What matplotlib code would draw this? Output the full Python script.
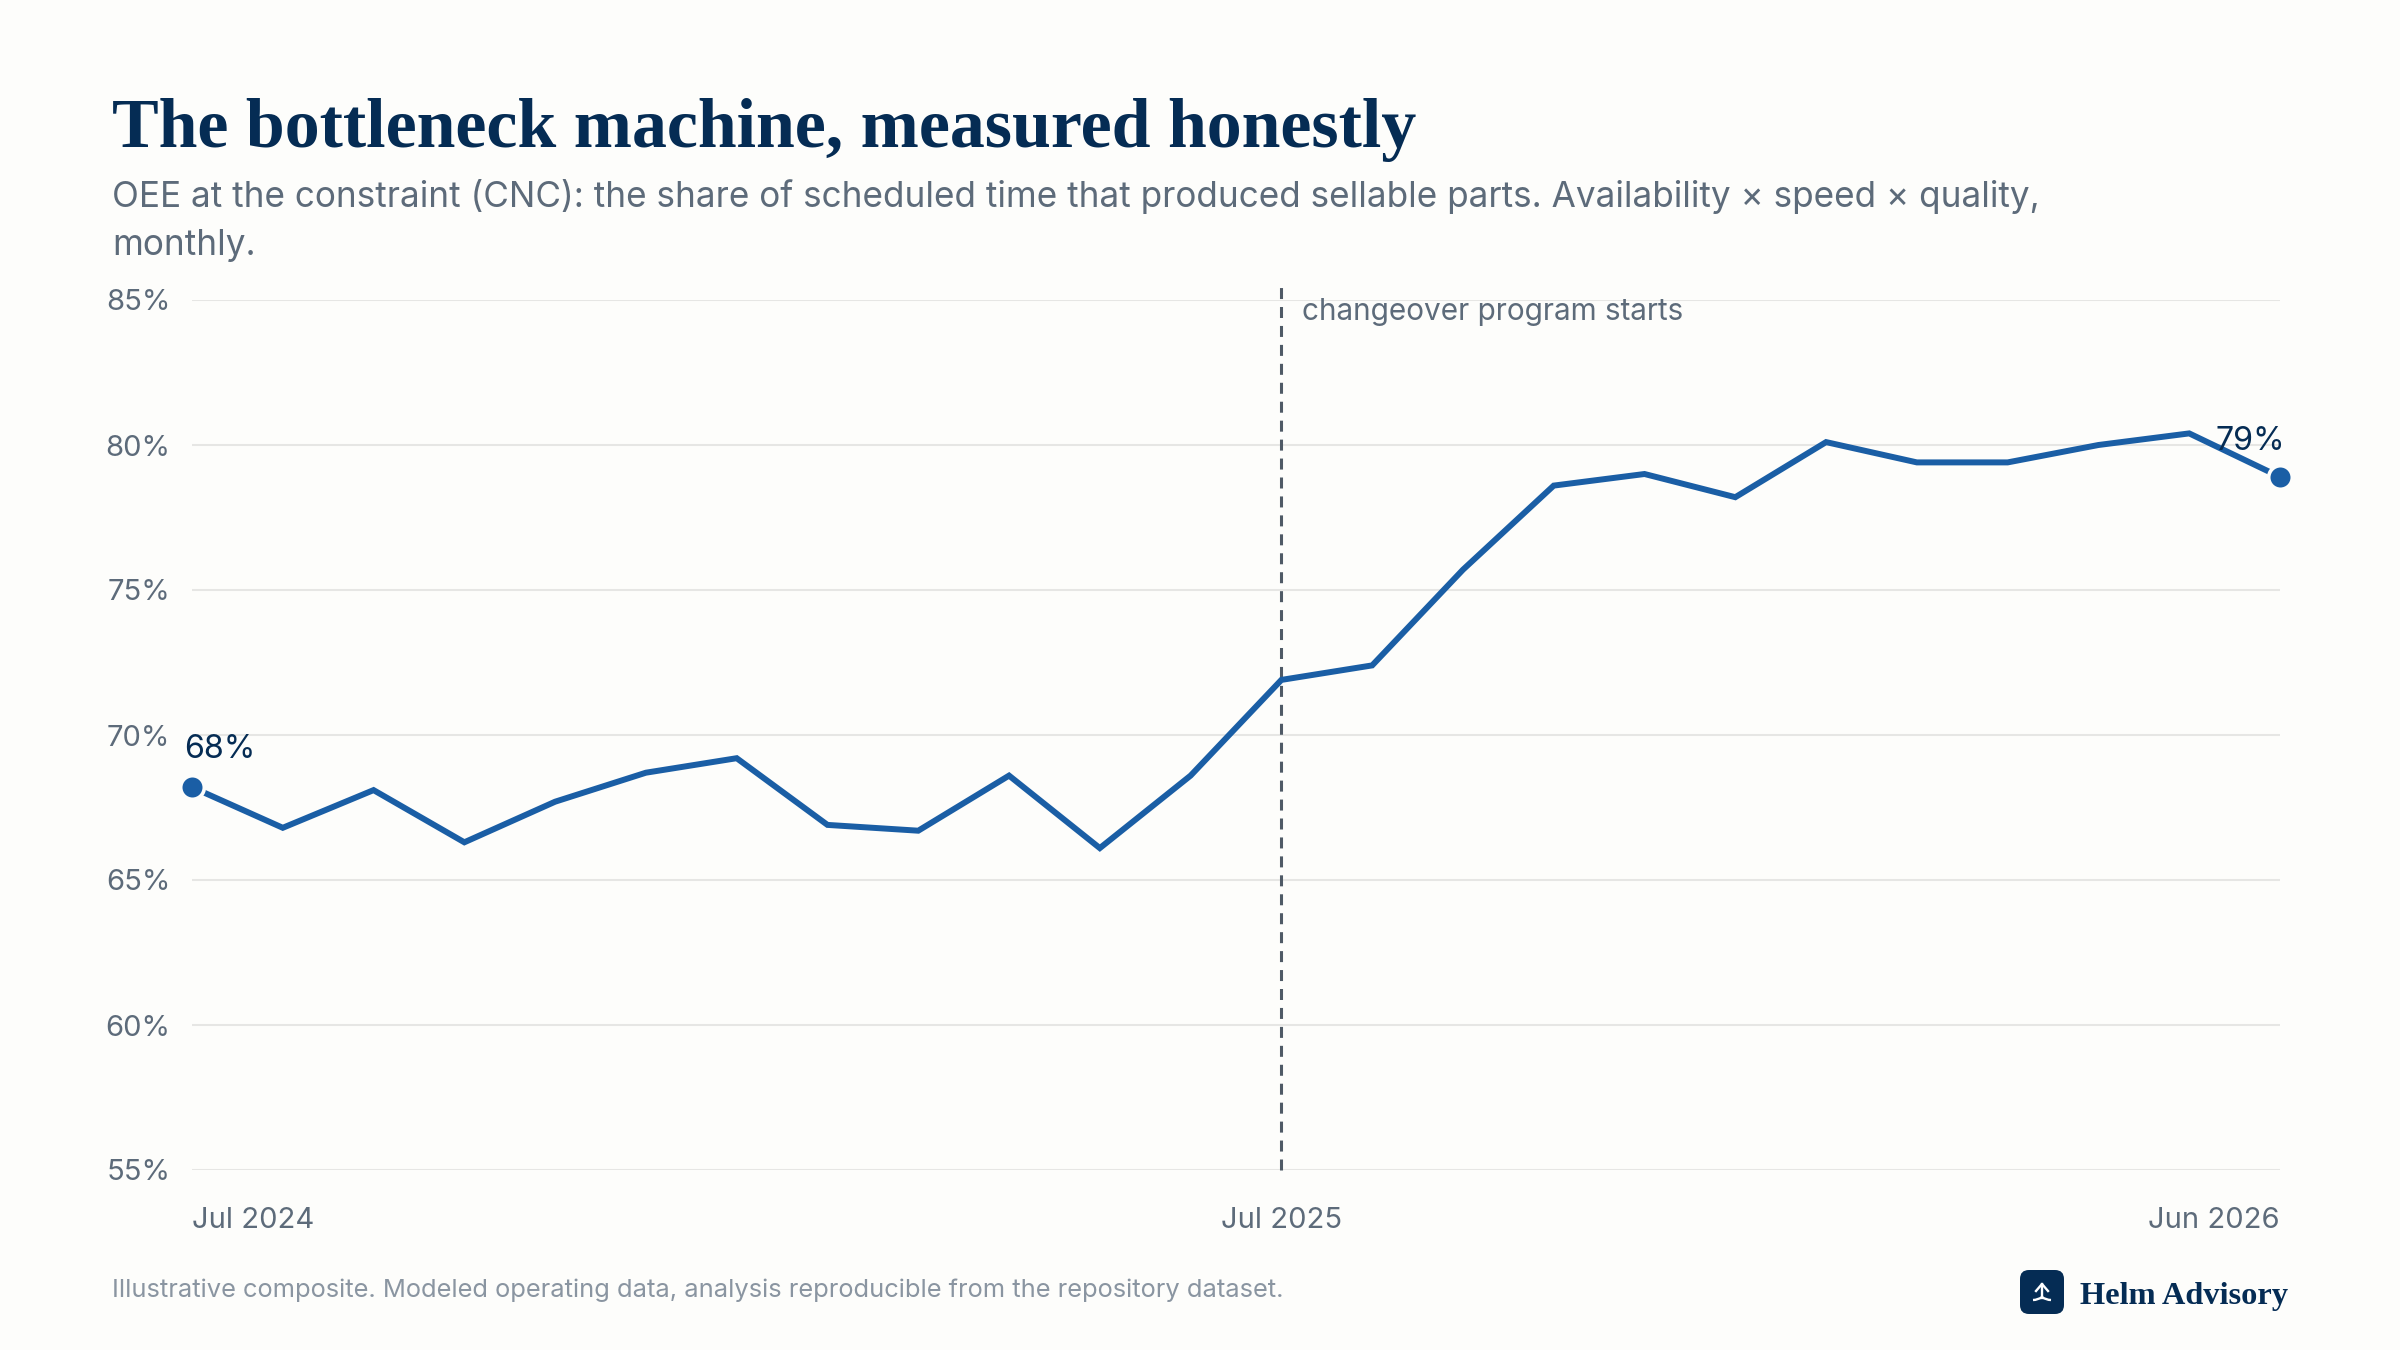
import matplotlib
matplotlib.use("Agg")
import matplotlib.pyplot as plt
from matplotlib.patches import FancyBboxPatch, PathPatch
from matplotlib.path import Path
import numpy as np

# monthly OEE at the CNC constraint, Jul 2024 to Jun 2026
months = ["Jul 2024", "Aug 2024", "Sep 2024", "Oct 2024", "Nov 2024", "Dec 2024",
          "Jan 2025", "Feb 2025", "Mar 2025", "Apr 2025", "May 2025", "Jun 2025",
          "Jul 2025", "Aug 2025", "Sep 2025", "Oct 2025", "Nov 2025", "Dec 2025",
          "Jan 2026", "Feb 2026", "Mar 2026", "Apr 2026", "May 2026", "Jun 2026"]
oee = [68.2, 66.8, 68.1, 66.3, 67.7, 68.7, 69.2, 66.9, 66.7, 68.6, 66.1, 68.6,
       71.9, 72.4, 75.7, 78.6, 79.0, 78.2, 80.1, 79.4, 79.4, 80.0, 80.4, 78.9]
y_ticks = [55, 60, 65, 70, 75, 80, 85]
x_labels = ["Jul 2024", "Jul 2025", "Jun 2026"]
marker_month = "Jul 2025"
marker_label = "changeover program starts"
start_label = "68%"
end_label = "79%"

title = "The bottleneck machine, measured honestly"
subtitle = ("OEE at the constraint (CNC): the share of scheduled time that produced "
            "sellable parts. Availability × speed × quality,\nmonthly.")
footnote = "Illustrative composite. Modeled operating data, analysis reproducible from the repository dataset."
brand = "Helm Advisory"

BG = "#FDFDFB"
NAVY = "#052C54"
BLUE = "#1A5EA5"
GREY = "#5D6B7A"
LIGHT_GREY = "#8A95A1"
GRID = "#E6E6E4"
SANS = "Inter"
SERIF = "Liberation Serif"

W, H = 2400, 1350
LEFT, RIGHT, TOP, BOTTOM = 192, 2280, 300, 1170


def px(x, y):
    return x / W, 1 - y / H


fig = plt.figure(figsize=(24, 13.5), dpi=100, facecolor=BG)
ax = fig.add_axes([LEFT / W, 1 - BOTTOM / H, (RIGHT - LEFT) / W, (BOTTOM - TOP) / H])
ax.set_facecolor(BG)

x = np.arange(len(months))
ax.set_xlim(0, len(months) - 1)
ax.set_ylim(55, 85)

for s in ax.spines.values():
    s.set_visible(False)

ax.set_yticks(y_ticks)
ax.set_yticklabels(["{}%".format(v) for v in y_ticks], fontsize=21, color=GREY, family=SANS)
ax.tick_params(axis="y", length=0, pad=15.5)
ax.grid(axis="y", color=GRID, linewidth=1.5)
ax.set_axisbelow(True)

tick_pos = [months.index(m) for m in x_labels]
ax.set_xticks(tick_pos)
ax.set_xticklabels(x_labels, fontsize=21, color=GREY, family=SANS)
ax.tick_params(axis="x", length=0, pad=26.5)
for lab, ha in zip(ax.get_xticklabels(), ["left", "center", "right"]):
    lab.set_ha(ha)

# dashed marker runs a little above the top gridline
start = months.index(marker_month)
ax.plot([start, start], [55, 85.7], color="#4F5A66", linewidth=2.2,
        linestyle=(0, (3.6, 2.6)), clip_on=False, zorder=2)
ax.annotate(marker_label, xy=(start, 85), xytext=(14.5, -8.5), textcoords="offset points",
            fontsize=21.4, color=GREY, family=SANS, va="center", ha="left")

ax.plot(x, oee, color=BLUE, linewidth=4.3, solid_joinstyle="miter", clip_on=False, zorder=3)
ax.plot([x[0], x[-1]], [oee[0], oee[-1]], linestyle="none", marker="o", markersize=17,
        markerfacecolor=BLUE, markeredgecolor=BG, markeredgewidth=2.6, clip_on=False, zorder=4)

ax.annotate(start_label, xy=(x[0], oee[0]), xytext=(-5.5, 16), textcoords="offset points",
            fontsize=23.2, color=NAVY, family=SANS, ha="left", va="bottom")
ax.annotate(end_label, xy=(x[-1], oee[-1]), xytext=(3.5, 14.5), textcoords="offset points",
            fontsize=23.2, color=NAVY, family=SANS, ha="right", va="bottom")

fig.text(*px(112, 147), title, fontsize=50.3, color=NAVY, family=SERIF, weight="bold", va="baseline")
sub_lines = subtitle.split("\n")
fig.text(*px(112, 207), sub_lines[0], fontsize=25.3, color=GREY, family=SANS, va="baseline")
fig.text(*px(112, 255), sub_lines[1], fontsize=25.3, color=GREY, family=SANS, va="baseline")
fig.text(*px(112, 1297), footnote, fontsize=18.35, color=LIGHT_GREY, family=SANS, va="baseline")
fig.text(*px(2080, 1304), brand, fontsize=23.3, color=NAVY, family=SERIF, weight="bold", va="baseline")

# logo: rounded navy tile with a small white arrow and base curve
logo = fig.add_axes([0, 0, 1, 1], facecolor="none")
logo.set_xlim(0, W)
logo.set_ylim(H, 0)
logo.axis("off")
logo.add_patch(FancyBboxPatch((2028, 1278), 28, 28, boxstyle="round,pad=8,rounding_size=9",
                              facecolor=NAVY, edgecolor="none"))
logo.plot([2042, 2042], [1284, 1298], color="white", linewidth=1.7)
logo.plot([2036, 2042, 2048], [1291, 1284, 1291], color="white", linewidth=1.7)
base = Path([(2033, 1300), (2038, 1300), (2042, 1297), (2046, 1300), (2051, 1300)],
            [Path.MOVETO, Path.CURVE3, Path.CURVE3, Path.CURVE3, Path.CURVE3])
logo.add_patch(PathPatch(base, facecolor="none", edgecolor="white", linewidth=1.7))

fig.savefig("out.png", dpi=100, facecolor=BG)
